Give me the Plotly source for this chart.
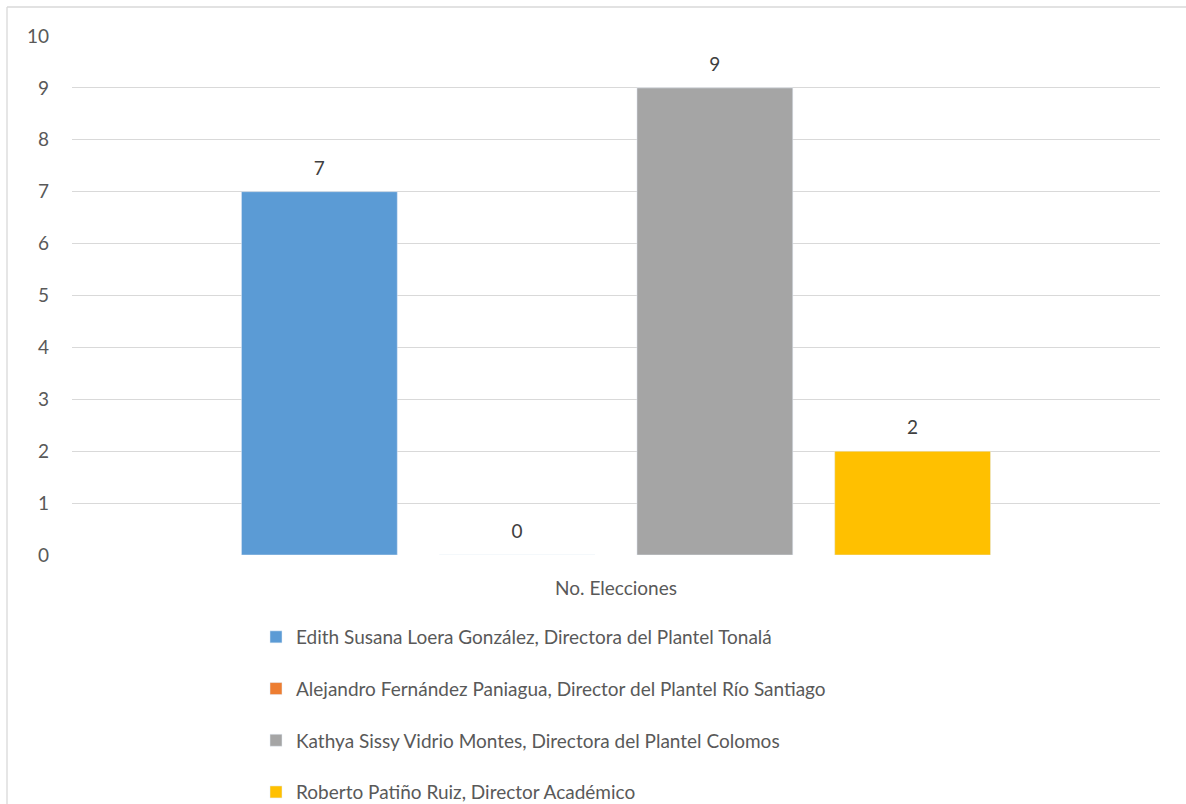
import plotly.graph_objects as go

category = ["No. Elecciones"]
series_names = [
    "Edith Susana Loera González, Directora del Plantel Tonalá",
    "Alejandro Fernández Paniagua, Director del Plantel Río Santiago",
    "Kathya Sissy Vidrio Montes, Directora del Plantel Colomos",
    "Roberto Patiño Ruiz, Director Académico",
]
series_values = [7, 0, 9, 2]
colors = ["#5B9BD5", "#ED7D31", "#A5A5A5", "#FFC000"]
y_ticks = list(range(0, 11))

FONT = "Lato"
W, H = 1186, 804
L, R, T, B = 72, 26, 36, 249

fig = go.Figure()
for i, (name, val, col) in enumerate(zip(series_names, series_values, colors)):
    fig.add_trace(go.Bar(
        x=category, y=[val], name=name, marker_color=col,
        text=[f"<span style='font-size:19px'>{val}</span><br> "],
        textposition="outside", cliponaxis=False,
        textfont=dict(family=FONT, size=9, color="#404040"),
        legendgroup=f"g{i}",
    ))

pw, ph = W - L - R, H - T - B
def px_x(p):
    return (p - L) / pw
def px_y(p):
    return (H - B - p) / ph

fig.update_layout(
    width=W, height=H,
    margin=dict(l=L, r=R, t=T, b=B, autoexpand=False),
    paper_bgcolor="white", plot_bgcolor="white",
    barmode="group", bargap=0.273, bargroupgap=0.212,
    font=dict(family=FONT, size=19, color="#595959"),
    showlegend=True,
    legend=dict(
        orientation="v", x=px_x(256), xanchor="left", y=px_y(618), yanchor="top",
        font=dict(family=FONT, size=19, color="#595959"),
        tracegroupgap=24, itemwidth=30, traceorder="grouped",
        bgcolor="rgba(0,0,0,0)",
    ),
    xaxis=dict(showgrid=False, showline=False, ticks="", ticklabelstandoff=20,
               tickfont=dict(family=FONT, size=19, color="#595959")),
    yaxis=dict(range=[0, 10], tickvals=y_ticks, showgrid=True, gridcolor="#D9D9D9",
               gridwidth=1.2, zeroline=False, showline=False, ticks="",
               ticklabelstandoff=22,
               tickfont=dict(family=FONT, size=19, color="#595959")),
    shapes=[
        dict(type="line", xref="paper", yref="paper", x0=px_x(7), x1=px_x(W + 5),
             y0=px_y(7), y1=px_y(7), line=dict(color="#D9D9D9", width=1.3)),
        dict(type="line", xref="paper", yref="paper", x0=px_x(7), x1=px_x(7),
             y0=px_y(7), y1=px_y(H + 5), line=dict(color="#D9D9D9", width=1.3)),
    ],
)

fig.write_html("out.html", config={"displayModeBar": False},
               post_script="document.body.style.margin='0';")
